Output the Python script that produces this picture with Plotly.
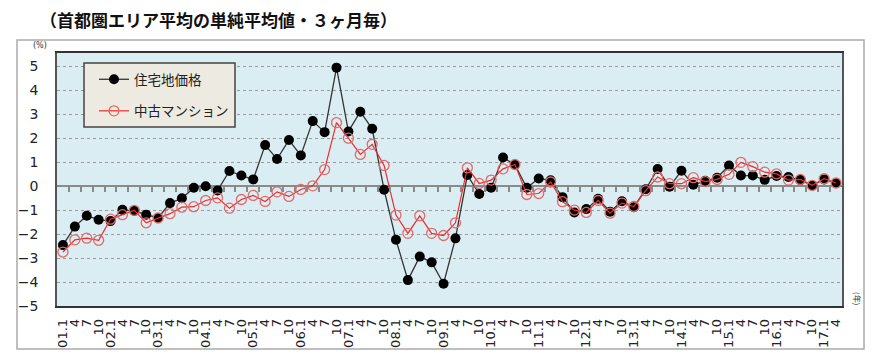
import plotly.graph_objects as go

# Quarterly labels 01.1 ... 17.4
months = [1, 4, 7, 10]
labels = []
for i in range(66):
    yr = 1 + i // 4
    m = months[i % 4]
    labels.append(f"{yr:02d}.{m}" if m == 1 else str(m))
xpos = list(range(len(labels)))

land = [-2.46, -1.69, -1.24, -1.40, -1.46, -0.99, -1.04, -1.19, -1.33, -0.71,
        -0.51, -0.07, -0.01, -0.18, 0.63, 0.44, 0.28, 1.71, 1.13, 1.92,
        1.28, 2.71, 2.25, 4.94, 2.28, 3.10, 2.39, -0.15, -2.24, -3.92,
        -2.94, -3.18, -4.07, -2.18, 0.46, -0.33, -0.07, 1.19, 0.89, -0.07,
        0.32, 0.24, -0.46, -1.10, -0.96, -0.53, -1.07, -0.63, -0.88, -0.13,
        0.71, -0.03, 0.64, 0.06, 0.22, 0.35, 0.86, 0.44, 0.44, 0.26,
        0.42, 0.38, 0.25, 0.03, 0.28, 0.13]

condo = [-2.75, -2.24, -2.17, -2.26, -1.38, -1.19, -1.01, -1.53, -1.33, -1.15,
         -0.88, -0.86, -0.60, -0.49, -0.92, -0.56, -0.39, -0.64, -0.24, -0.43,
         -0.14, 0.01, 0.69, 2.65, 2.00, 1.32, 1.74, 0.86, -1.21, -1.97,
         -1.24, -1.97, -2.06, -1.53, 0.76, 0.11, 0.25, 0.72, 0.90, -0.35,
         -0.31, 0.17, -0.65, -1.00, -1.10, -0.60, -1.13, -0.71, -0.85, -0.19,
         0.38, 0.10, 0.10, 0.35, 0.19, 0.28, 0.49, 0.99, 0.81, 0.58,
         0.51, 0.25, 0.28, 0.03, 0.31, 0.13]

series_names = ["住宅地価格", "中古マンション"]
title_text = "（首都圏エリア平均の単純平均値・３ヶ月毎）"

y_min, y_max = -5, 5.55
x_range = [-0.5, len(labels) - 0.5]

# page body has an 8px default margin; figure is sized to compensate
OFF = 8
W, H = 876 - OFF, 361 - OFF
PL, PT, PW, PH = 57, 53, 785, 253  # plot area in page pixels


def px_x(x):
    return (x - PL) / PW


def px_y(y):
    return (PT + PH - y) / PH


fig = go.Figure()
fig.add_trace(go.Scatter(
    x=xpos, y=land, name=series_names[0], mode="lines+markers",
    line=dict(color="#333333", width=1.3),
    marker=dict(symbol="circle", size=10, color="#000000"),
    legendgroup="a",
))
fig.add_trace(go.Scatter(
    x=xpos, y=condo, name=series_names[1], mode="lines+markers",
    line=dict(color="#EE2A2A", width=1.2),
    marker=dict(symbol="circle-open", size=10, color="#E26A6A", line=dict(width=1.3)),
    legendgroup="b",
))
# invisible helper trace for the tick marks along the zero line
fig.add_trace(go.Scatter(
    x=xpos, y=[None] * len(xpos), xaxis="x2", showlegend=False,
    hoverinfo="skip", mode="lines",
))

fig.update_layout(
    width=W, height=H,
    margin=dict(l=PL - OFF, r=W + OFF - PL - PW, t=PT - OFF, b=H - (PT - OFF) - PH, autoexpand=False),
    paper_bgcolor="white",
    plot_bgcolor="#DAEDF3",
    font=dict(family="DejaVu Sans", color="#222222"),
    title=dict(
        text=title_text, x=(40 - OFF) / W, xanchor="left", y=1 - (21.5 - OFF) / H, yanchor="middle",
        font=dict(family="Noto Sans CJK JP", size=17, color="#111111", weight="bold"),
    ),
    xaxis=dict(
        range=x_range, tickmode="array", tickvals=xpos, ticktext=labels,
        tickangle=-90, tickfont=dict(size=13, color="#222222"),
        ticks="", showgrid=False, zeroline=False, automargin=False,
        showline=True, linecolor="#333333", linewidth=1.5, mirror=True,
        ticklabelstandoff=6,
    ),
    xaxis2=dict(
        range=x_range, overlaying="x", anchor="free",
        position=(0 - y_min) / (y_max - y_min), side="bottom",
        tickmode="array", tickvals=[i + 0.5 for i in xpos[:-1]],
        ticks="outside", ticklen=5, tickcolor="#8a8a8a", tickwidth=1.5,
        showticklabels=False, showgrid=False, showline=False, zeroline=False,
    ),
    yaxis=dict(
        range=[y_min, y_max], dtick=1, tick0=0, automargin=False,
        tickfont=dict(size=14, color="#222222"),
        showgrid=True, gridcolor="#9a9a9a", griddash="dot", gridwidth=1,
        zeroline=True, zerolinecolor="#8a8a8a", zerolinewidth=1.5,
        showline=True, linecolor="#555555", linewidth=1.5, mirror=True,
        ticks="", ticklabelstandoff=14,
    ),
    legend=dict(
        x=px_x(94), y=px_y(64), xanchor="left", yanchor="top",
        bgcolor="rgba(0,0,0,0)", borderwidth=0,
        font=dict(family="Noto Sans CJK JP", size=13.5, color="#222222"),
        traceorder="grouped", tracegroupgap=11,
    ),
    showlegend=True,
)

# legend frame
fig.add_shape(type="rect", xref="paper", yref="paper",
              x0=px_x(84), x1=px_x(235), y0=px_y(127), y1=px_y(63),
              line=dict(color="#444444", width=1.5), fillcolor="#EDEBE1", layer="above")

fig.add_annotation(text="(%)", xref="paper", yref="paper", x=px_x(40), y=px_y(46),
                   showarrow=False, font=dict(size=8, color="#333333"), xanchor="center", yanchor="middle")
fig.add_annotation(text="(年)", xref="paper", yref="paper", x=px_x(858), y=px_y(298),
                   showarrow=False, textangle=90,
                   font=dict(family="Noto Sans CJK JP", size=8, color="#333333"),
                   xanchor="center", yanchor="middle")
# outer chart frame
fig.add_shape(type="rect", xref="paper", yref="paper",
              x0=px_x(17), x1=px_x(864), y0=px_y(349), y1=px_y(40),
              line=dict(color="#AAAAAA", width=1.5), fillcolor="rgba(0,0,0,0)", layer="below")

fig.write_html("out.html")
